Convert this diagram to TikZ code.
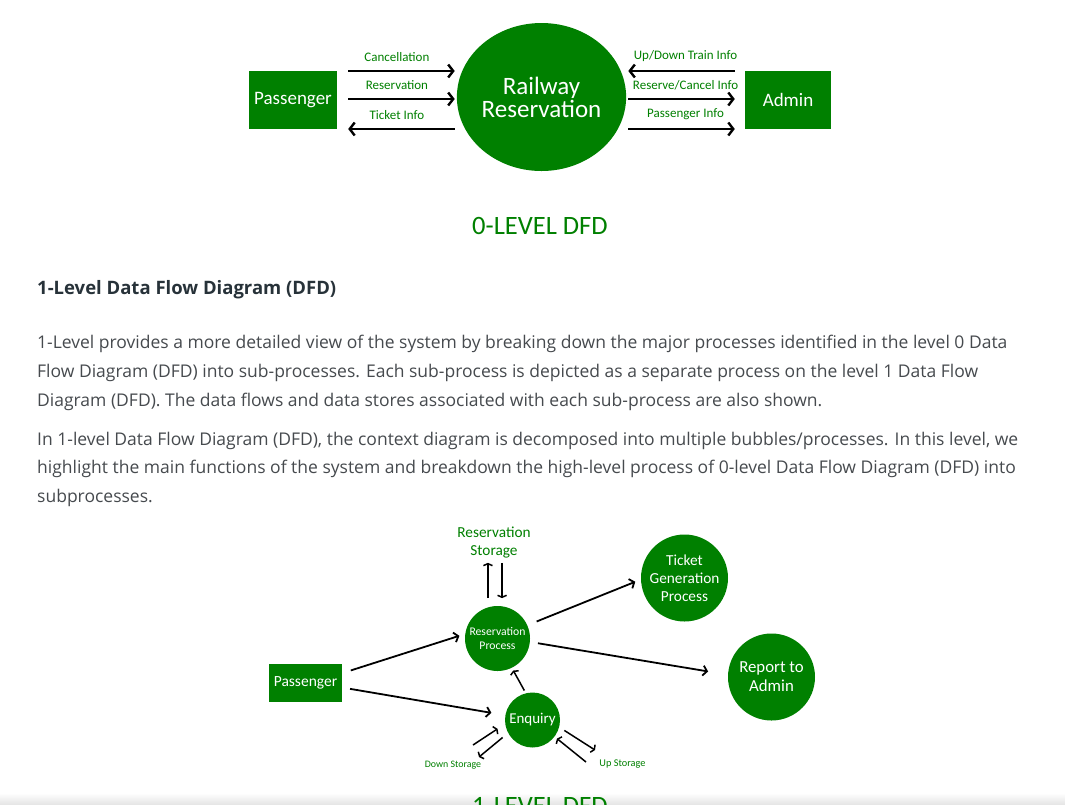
\documentclass[tikz,border=0pt]{standalone}
\usepackage{fontspec}
\setmainfont{Open Sans}
\newfontfamily\dfdfont{Carlito}
\usetikzlibrary{arrows.meta,shapes.geometric}
\definecolor{dfdgreen}{RGB}{0,128,0}
\definecolor{bodygray}{RGB}{70,74,78}
\definecolor{headgray}{RGB}{39,50,57}
\tikzset{
  entity/.style={fill=dfdgreen, text=white, inner sep=0pt},
  bubble/.style={circle, fill=dfdgreen, text=white, inner sep=0pt, align=center},
  lbl/.style={text=dfdgreen, inner sep=0pt, font=\dfdfont\fontsize{13}{15}\selectfont},
  flowzero/.style={line width=2.4pt, -{Straight Barb[length=5pt,width=13pt]}},
  flowone/.style={line width=1.8pt, -{Straight Barb[length=4pt,width=10pt]}},
  storeflow/.style={line width=1.5pt, -{Straight Barb[length=2pt,width=9pt]}},
  bodyline/.style={anchor=base west, inner sep=0pt, text=bodygray,
    font=\fontsize{17.5}{20}\selectfont}
}

\begin{document}
\begin{tikzpicture}[x=1pt,y=-1pt]
\useasboundingbox (0,0) rectangle (1065,804);
\clip (0,0) rectangle (1065,804);
\fill[white] (0,0) rectangle (1065,804);

% 0-level DFD
\node[entity, minimum width=88pt, minimum height=58pt,
  font=\dfdfont\fontsize{19}{20}\selectfont] (pass) at (293,100) {Passenger};
\node[entity, minimum width=86pt, minimum height=58pt,
  font=\dfdfont\fontsize{19}{20}\selectfont] (admin) at (788,100) {Admin};
\node[ellipse, fill=dfdgreen, text=white, inner sep=0pt, align=center,
  minimum width=165pt, minimum height=148pt,
  font=\dfdfont\fontsize{25}{23}\selectfont] (rr) at (541.5,97) {Railway\\Reservation};

\draw[flowzero, shorten <=11pt, shorten >=2pt] ([yshift=29pt]pass.east) -- ([yshift=29pt]pass.east -| rr.west)
  node[lbl, midway, above=8pt] {Cancellation};
\draw[flowzero, shorten <=11pt, shorten >=2pt] ([yshift=1pt]pass.east) -- ([yshift=1pt]pass.east -| rr.west)
  node[lbl, midway, above=8pt] {Reservation};
\draw[flowzero, shorten <=2pt, shorten >=11pt] ([yshift=-29pt]pass.east -| rr.west) -- ([yshift=-29pt]pass.east)
  node[lbl, midway, above=8pt] {Ticket Info};

\draw[flowzero, shorten <=10pt, shorten >=2pt] ([yshift=29pt]admin.west) -- ([yshift=29pt]admin.west -| rr.east)
  node[lbl, midway, above=8pt] {Up/Down Train Info};
\draw[flowzero, shorten <=2pt, shorten >=10pt] ([yshift=1pt]admin.west -| rr.east) -- ([yshift=1pt]admin.west)
  node[lbl, midway, above=8pt] {Reserve/Cancel Info};
\draw[flowzero, shorten <=2pt, shorten >=10pt] ([yshift=-29pt]admin.west -| rr.east) -- ([yshift=-29pt]admin.west)
  node[lbl, midway, above=8pt] {Passenger Info};

\node[text=dfdgreen, inner sep=0pt, font=\dfdfont\fontsize{26.5}{28}\selectfont] (title0) at (540,226) {0-LEVEL DFD};

% text
\node[bodyline, text=headgray, font=\bfseries\fontsize{18.5}{20}\selectfont] (head) at (37,294) {1-Level Data Flow Diagram (DFD)};
\node[bodyline] (p1) at (37,348) {1-Level provides a more detailed view of the system by breaking down the major processes identified in the level 0 Data};
\node[bodyline] (p2) at (37,377) {Flow Diagram (DFD) into sub-processes. Each sub-process is depicted as a separate process on the level 1 Data Flow};
\node[bodyline] (p3) at (37,406) {Diagram (DFD). The data flows and data stores associated with each sub-process are also shown.};
\node[bodyline] (p4) at (37,445) {In 1-level Data Flow Diagram (DFD), the context diagram is decomposed into multiple bubbles/processes. In this level, we};
\node[bodyline] (p5) at (37,473) {highlight the main functions of the system and breakdown the high-level process of 0-level Data Flow Diagram (DFD) into};
\node[bodyline] (p6) at (37,502) {subprocesses.};

% 1-level DFD
\node[entity, minimum width=73pt, minimum height=38pt,
  font=\dfdfont\fontsize{15.5}{17}\selectfont] (pass1) at (305.5,683) {Passenger};
\node[bubble, minimum size=65pt, font=\dfdfont\fontsize{11.7}{14}\selectfont] (resproc) at (497.5,638.5) {Reservation\\Process};
\node[bubble, minimum size=87pt, font=\dfdfont\fontsize{15.3}{18}\selectfont] (ticket) at (684.5,578) {Ticket\\Generation\\Process};
\node[bubble, minimum size=87pt, font=\dfdfont\fontsize{16.8}{19}\selectfont] (report) at (771.5,677) {Report to\\Admin};
\node[bubble, minimum size=55pt, font=\dfdfont\fontsize{15}{15}\selectfont] (enq) at (532.5,720) {Enquiry};
\node[lbl, align=center, font=\dfdfont\fontsize{15.3}{18}\selectfont] (resstore) at (494,543) {Reservation\\Storage};
\node[lbl, font=\dfdfont\fontsize{9.9}{10}\selectfont] (downstore) at (453,765) {Down Storage};
\node[lbl, font=\dfdfont\fontsize{10.3}{10}\selectfont] (upstore) at (622.5,764) {Up Storage};
\coordinate (dsA) at (473,745);
\coordinate (dsB) at (479,757);
\coordinate (usC) at (595,750);
\coordinate (usD) at (586,762);

\draw[flowone, shorten <=9pt, shorten >=6pt] (pass1.15) -- (resproc.172);
\draw[flowone, shorten <=8pt, shorten >=14pt] (pass1.-7) -- (enq.170);
\draw[flowone, shorten <=10pt, shorten >=6pt] (resproc.24) -- (ticket.182);
\draw[flowone, shorten <=8pt, shorten >=20pt] (resproc.-6) -- (report.177);
\draw[storeflow, shorten <=3pt, shorten >=3pt] (enq.104) -- (resproc.-64);
\draw[storeflow, shorten <=9pt, shorten >=4pt] (resproc.107) -- (resproc.107 |- resstore.south);
\draw[storeflow, shorten <=4pt, shorten >=8pt] (resproc.82 |- resstore.south) -- (resproc.82);
\draw[storeflow, shorten >=9pt] (dsA) -- (enq.188);
\draw[storeflow, shorten <=7pt] (enq.208) -- (dsB);
\draw[storeflow, shorten <=6pt] (enq.-15) -- (usC);
\draw[storeflow, shorten >=3pt] (usD) -- (enq.-37);

% bottom edge
\shade[top color=white, bottom color=black!10] (0,793) rectangle (1065,804);
\node[anchor=base, text=dfdgreen, inner sep=0pt, font=\dfdfont\fontsize{26.5}{28}\selectfont] (title1) at (540,814) {1-LEVEL DFD};
\end{tikzpicture}
\end{document}
